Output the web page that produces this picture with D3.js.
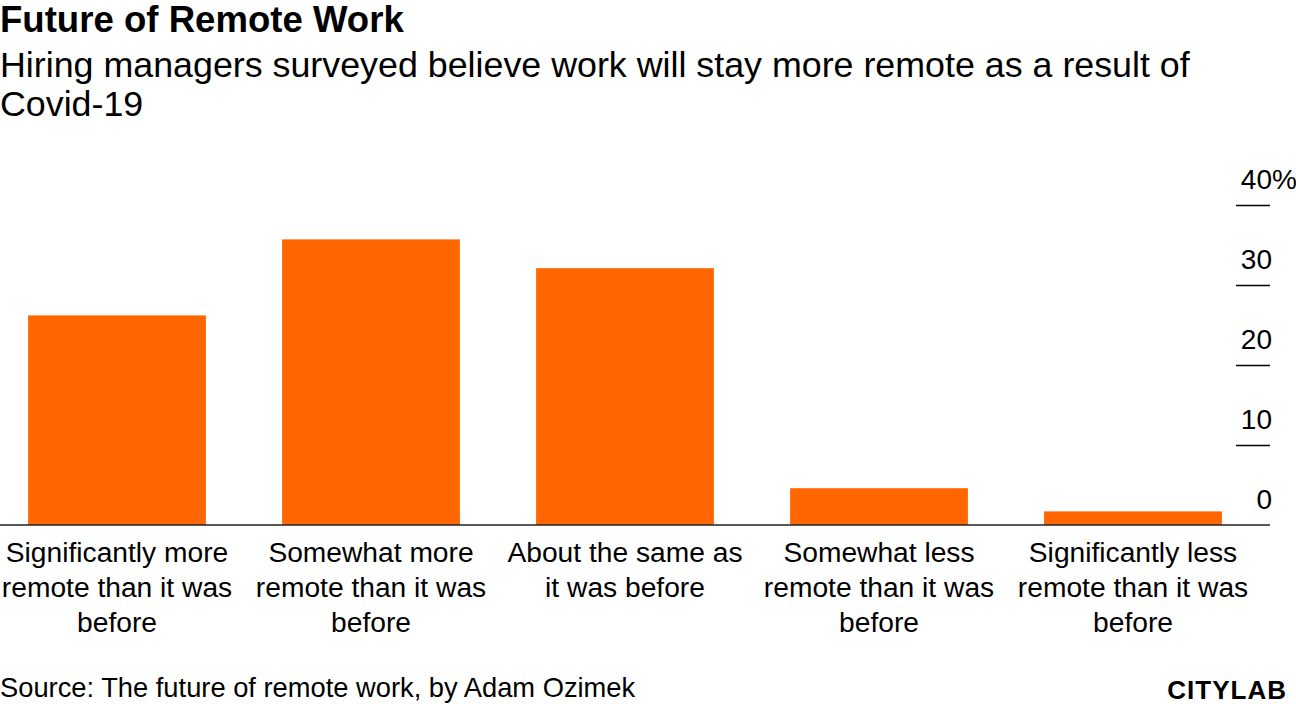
<!DOCTYPE html>
<html>
<head>
<meta charset="utf-8">
<script src="https://cdn.jsdelivr.net/npm/d3@7"></script>
<style>
  body { margin: 0; background: #fff; }
  text { font-family: "Liberation Sans", Arial, sans-serif; fill: #000; }
</style>
</head>
<body>
<svg id="chart"></svg>
<script>
var categories = [
  ["Significantly more", "remote than it was", "before"],
  ["Somewhat more", "remote than it was", "before"],
  ["About the same as", "it was before"],
  ["Somewhat less", "remote than it was", "before"],
  ["Significantly less", "remote than it was", "before"]
];
var shares = [26.2, 35.7, 32.1, 4.6, 1.7];
var yTicks = [0, 10, 20, 30, 40];

var drawChart = function()
{
  var width = 1296;
  var height = 704;
  var svg = d3.select("#chart")
              .attr("width", width)
              .attr("height", height);

  var x = d3.scaleBand()
            .domain(d3.range(shares.length))
            .range([-10, 1260])
            .paddingInner(0.3)
            .paddingOuter(0.15);
  var y = d3.scaleLinear()
            .domain([0, 40])
            .range([525, 205]);

  // titles
  svg.append("text")
     .text("Future of Remote Work")
     .attr("x", 0)
     .attr("y", 32)
     .attr("font-size", 36.6)
     .attr("font-weight", "bold");
  svg.append("text")
     .text("Hiring managers surveyed believe work will stay more remote as a result of")
     .attr("x", 0)
     .attr("y", 77)
     .attr("font-size", 35.8);
  svg.append("text")
     .text("Covid-19")
     .attr("x", 0)
     .attr("y", 116)
     .attr("font-size", 35.8);

  // bars
  svg.selectAll("rect.bar")
     .data(shares)
     .enter()
     .append("rect")
     .attr("class", "bar")
     .attr("x", function(d, i) { return x(i); })
     .attr("y", function(d) { return y(d); })
     .attr("width", x.bandwidth())
     .attr("height", function(d) { return y(0) - y(d); })
     .attr("fill", "#ff6600");

  // y axis, ticks on the right with labels above them
  var yAxis = svg.append("g")
     .attr("transform", "translate(1270,0)")
     .call(d3.axisLeft(y).tickValues(yTicks).tickSize(34).tickFormat(function(d) { return d; }));
  yAxis.select(".domain").remove();
  yAxis.selectAll(".tick line")
       .attr("stroke", "#000")
       .attr("stroke-width", 1.5)
       .filter(function(d) { return d === 0; }).remove();
  yAxis.selectAll(".tick text")
       .attr("x", 2)
       .attr("dy", -17)
       .attr("text-anchor", "end")
       .attr("font-size", 28)
       .attr("font-family", null)
       .attr("fill", "#000");
  yAxis.selectAll(".tick")
       .filter(function(d) { return d === 40; })
       .append("text")
       .text("%")
       .attr("x", 2)
       .attr("dy", -17)
       .attr("text-anchor", "start")
       .attr("font-size", 28);

  // baseline
  svg.append("line")
     .attr("x1", 0)
     .attr("x2", 1270)
     .attr("y1", y(0))
     .attr("y2", y(0))
     .attr("stroke", "#222")
     .attr("stroke-width", 1.5);

  // category labels
  var labels = svg.selectAll("text.cat")
     .data(categories)
     .enter()
     .append("text")
     .attr("class", "cat")
     .attr("text-anchor", "middle")
     .attr("font-size", 28.2)
     .attr("y", 562);
  labels.selectAll("tspan")
     .data(function(d, i) { return d.map(function(t) { return {t: t, i: i}; }); })
     .enter()
     .append("tspan")
     .attr("x", function(d) { return x(d.i) + x.bandwidth() / 2; })
     .attr("dy", function(d, j) { return j === 0 ? 0 : 35; })
     .text(function(d) { return d.t; });

  // footer
  svg.append("text")
     .text("Source: The future of remote work, by Adam Ozimek")
     .attr("x", 0)
     .attr("y", 697)
     .attr("font-size", 27.3);
  svg.append("text")
     .text("CITYLAB")
     .attr("x", 1287)
     .attr("y", 699)
     .attr("text-anchor", "end")
     .attr("font-size", 26)
     .attr("font-weight", "900")
     .attr("letter-spacing", 1)
     .attr("font-family", "'DejaVu Sans', sans-serif");
}
drawChart();
</script>
</body>
</html>
